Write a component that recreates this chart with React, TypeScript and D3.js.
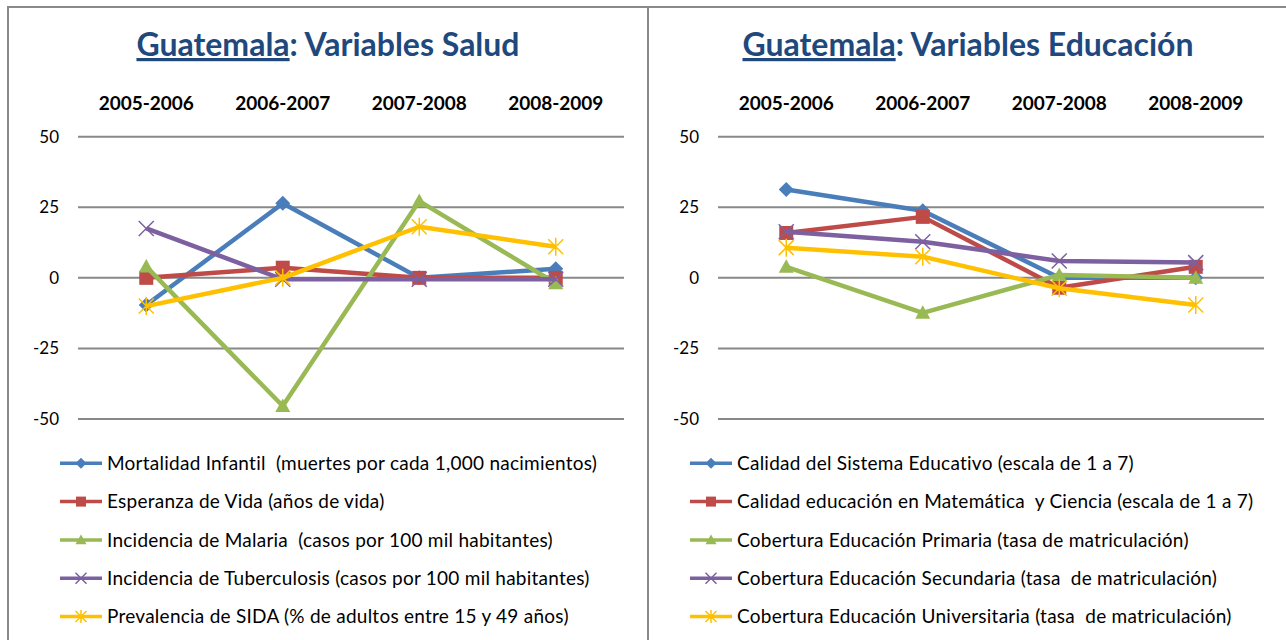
import React from 'react';
import * as d3 from 'd3';

// periods on the top axis
const periods = ['2005-2006', '2006-2007', '2007-2008', '2008-2009'];
const yTicks = [50, 25, 0, -25, -50];

// Salud
const saludLabels = [
  'Mortalidad Infantil  (muertes por cada 1,000 nacimientos)',
  'Esperanza de Vida (años de vida)',
  'Incidencia de Malaria  (casos por 100 mil habitantes)',
  'Incidencia de Tuberculosis (casos por 100 mil habitantes)',
  'Prevalencia de SIDA (% de adultos entre 15 y 49 años)',
];
const mortalidadInfantil = [-9.6, 26.4, 0, 3.2];
const esperanzaVida = [0, 3.6, 0, 0];
const malaria = [4, -45.4, 27.2, -1.9];
const tuberculosis = [17.5, -0.5, -0.5, -0.5];
const sida = [-10, 0, 18.1, 11];

// Educación
const educacionLabels = [
  'Calidad del Sistema Educativo (escala de 1 a 7)',
  'Calidad educación en Matemática  y Ciencia (escala de 1 a 7)',
  'Cobertura Educación Primaria (tasa de matriculación)',
  'Cobertura Educación Secundaria (tasa  de matriculación)',
  'Cobertura Educación Universitaria (tasa  de matriculación)',
];
const calidadSistema = [31.3, 23.8, 0, 0];
const calidadMatematica = [15.9, 21.6, -3.5, 3.9];
const primaria = [3.9, -12.4, 1, 0];
const secundaria = [16.3, 12.8, 6, 5.4];
const universitaria = [10.7, 7.5, -3.7, -9.6];

const colors = ['#4A7EBB', '#BE4B48', '#98B954', '#7D60A0', '#FFC000'];
const markers = ['diamond', 'square', 'triangle', 'x', 'star'];

const FONT = 'Lato, "Liberation Sans", sans-serif';

const markerPath = (type: string, s: number) => {
  const h = s / 2;
  switch (type) {
    case 'diamond':
      return `M0,${-h}L${h},0L0,${h}L${-h},0Z`;
    case 'square':
      return `M${-h},${-h}H${h}V${h}H${-h}Z`;
    case 'triangle':
      return `M0,${-h}L${h},${h * 0.8}L${-h},${h * 0.8}Z`;
    case 'x':
      return `M${-h},${-h}L${h},${h}M${h},${-h}L${-h},${h}`;
    default:
      return `M${-h},${-h}L${h},${h}M${h},${-h}L${-h},${h}M0,${-h * 1.2}V${h * 1.2}`;
  }
};

const Marker = ({type, color, size, x, y}: any) => {
  const filled = type !== 'x' && type !== 'star';
  return (
    <path
      transform={`translate(${x},${y})`}
      d={markerPath(type, size)}
      fill={filled ? color : 'none'}
      stroke={color}
      strokeWidth={filled ? 0 : 1.5}
    />
  );
};

interface PanelProps {
  left: number;
  title: string;
  labels: string[];
  series: number[][];
  legendX: number;
}

const Panel = ({left, title, labels, series, legendX}: PanelProps) => {
  const x = d3
    .scalePoint<string>()
    .domain(periods)
    .range([70, 616])
    .padding(0.5);
  const y = d3.scaleLinear().domain([-50, 50]).range([419, 136.7]);
  const line = d3
    .line<number>()
    .x((_, i) => x(periods[i]) as number)
    .y(d => y(d));

  return (
    <g transform={`translate(${left},0)`}>
      <rect x={0} y={7} width={640} height={700} fill="#fff" stroke="#8a8a8a" strokeWidth={2} />
      <text
        x={320}
        y={56}
        textAnchor="middle"
        fontFamily={FONT}
        fontWeight="bold"
        fontSize={32}
        fill="#1F497D">
        <tspan textDecoration="underline">Guatemala</tspan>
        {title}
      </text>
      {periods.map(p => (
        <text
          key={p}
          x={x(p)}
          y={110}
          textAnchor="middle"
          fontFamily={FONT}
          fontWeight="bold"
          fontSize={19}
          fill="#000">
          {p}
        </text>
      ))}
      {yTicks.map(t => (
        <g key={t}>
          <line x1={70} x2={616} y1={y(t)} y2={y(t)} stroke="#888" strokeWidth={2} />
          <text
            x={51}
            y={y(t)}
            dy="0.35em"
            textAnchor="end"
            fontFamily={FONT}
            fontSize={17}
            fill="#000">
            {t}
          </text>
        </g>
      ))}
      {series.map((s, i) => (
        <g key={i}>
          <path d={line(s) as string} fill="none" stroke={colors[i]} strokeWidth={4.5} strokeLinejoin="round" />
          {s.map((v, j) => (
            <Marker
              key={j}
              type={markers[i]}
              color={colors[i]}
              size={markers[i] === 'square' ? 14 : 15}
              x={x(periods[j])}
              y={y(v)}
            />
          ))}
        </g>
      ))}
      {labels.map((lab, i) => {
        const ly = 463.3 + i * 38.3;
        return (
          <g key={lab}>
            <line x1={legendX} x2={legendX + 42} y1={ly} y2={ly} stroke={colors[i]} strokeWidth={3.5} />
            <Marker type={markers[i]} color={colors[i]} size={markers[i] === 'square' ? 10 : 11} x={legendX + 21} y={ly} />
            <text
              x={legendX + 47}
              y={ly}
              dy="0.35em"
              fontFamily={FONT}
              fontSize={19}
              letterSpacing={0.25}
              fill="#000"
              style={{whiteSpace: 'pre'}}>
              {lab}
            </text>
          </g>
        );
      })}
    </g>
  );
};

export default function App() {
  return (
    <svg
      width={1286}
      height={640}
      style={{position: 'absolute', left: 0, top: 0, background: '#fff'}}>
      <Panel
        left={8}
        title=": Variables Salud"
        labels={saludLabels}
        series={[mortalidadInfantil, esperanzaVida, malaria, tuberculosis, sida]}
        legendX={52}
      />
      <Panel
        left={648}
        title=": Variables Educación"
        labels={educacionLabels}
        series={[calidadSistema, calidadMatematica, primaria, secundaria, universitaria]}
        legendX={42}
      />
    </svg>
  );
}
